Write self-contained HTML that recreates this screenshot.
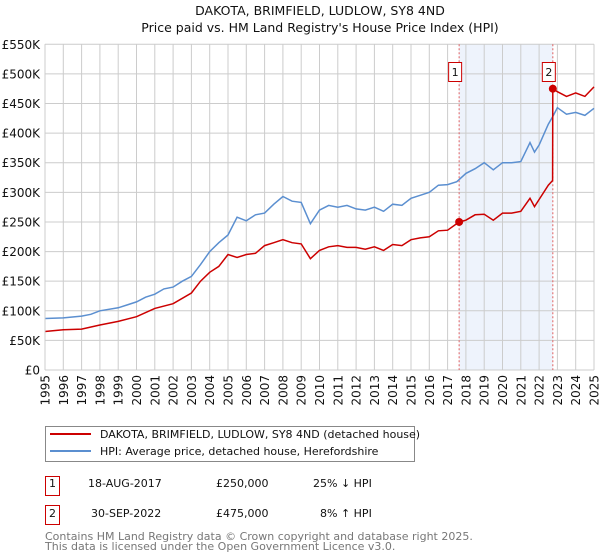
<!DOCTYPE html>
<html><head><meta charset="utf-8"><style>
body{margin:0;background:#fff;font-family:"DejaVu Sans","Liberation Sans",sans-serif;}
svg{display:block}
</style></head><body>
<svg width="600" height="560" xmlns="http://www.w3.org/2000/svg" font-family="DejaVu Sans, Liberation Sans, sans-serif">
<text x="320" y="15" font-size="12.5" text-anchor="middle" fill="#111">DAKOTA, BRIMFIELD, LUDLOW, SY8 4ND</text>
<text x="320" y="32" font-size="12.5" text-anchor="middle" fill="#111">Price paid vs. HM Land Registry's House Price Index (HPI)</text>
<g id="plot"></g>
<g>
<rect x="45.5" y="426.5" width="369" height="35" fill="#fff" stroke="#888"/>
<line x1="50" y1="434" x2="91" y2="434" stroke="#cc0000" stroke-width="2"/>
<text x="100" y="438" font-size="11" fill="#111">DAKOTA, BRIMFIELD, LUDLOW, SY8 4ND (detached house)</text>
<line x1="50" y1="451" x2="91" y2="451" stroke="#5b8fd0" stroke-width="2"/>
<text x="100" y="455" font-size="11" fill="#111">HPI: Average price, detached house, Herefordshire</text>
</g>
<g font-size="11" fill="#111">
<rect x="45.5" y="476.5" width="14" height="19" fill="#fff" stroke="#cc0000"/>
<text x="52.5" y="487" text-anchor="middle">1</text>
<text x="88" y="487">18-AUG-2017</text>
<text x="216" y="487">£250,000</text>
<text x="313" y="487">25% ↓ HPI</text>
<rect x="45.5" y="505.5" width="14" height="19" fill="#fff" stroke="#cc0000"/>
<text x="52.5" y="517" text-anchor="middle">2</text>
<text x="91" y="517">30-SEP-2022</text>
<text x="216" y="517">£475,000</text>
<text x="320" y="517">8% ↑ HPI</text>
</g>
<g font-size="11" fill="#777">
<text x="45" y="540">Contains HM Land Registry data © Crown copyright and database right 2025.</text>
<text x="45" y="550">This data is licensed under the Open Government Licence v3.0.</text>
</g>
</svg>
<script>
const hpiYears=[1995,1996,1997,1997.5,1998,1999,1999.5,2000,2000.5,2001,2001.5,2002,2002.5,2003,2003.5,2004,2004.5,2005,2005.5,2006,2006.5,2007,2007.5,2008,2008.5,2009,2009.5,2010,2010.5,2011,2011.5,2012,2012.5,2013,2013.5,2014,2014.5,2015,2015.5,2016,2016.5,2017,2017.5,2018,2018.5,2019,2019.5,2020,2020.5,2021,2021.5,2021.75,2022,2022.5,2022.75,2023,2023.5,2024,2024.5,2025];
const hpiValues=[87,88,91,94,100,105,110,115,123,128,137,140,150,158,178,200,215,228,258,252,262,265,280,293,285,283,247,270,278,275,278,272,270,275,268,280,278,290,295,300,312,313,318,332,340,350,338,350,350,352,384,368,380,415,428,443,432,435,430,442];
const paidYears=[1995,1996,1997,1998,1999,2000,2001,2002,2003,2003.5,2004,2004.5,2005,2005.5,2006,2006.5,2007,2007.5,2008,2008.5,2009,2009.5,2010,2010.5,2011,2011.5,2012,2012.5,2013,2013.5,2014,2014.5,2015,2015.5,2016,2016.5,2017,2017.63,2018,2018.5,2019,2019.5,2020,2020.5,2021,2021.5,2021.75,2022,2022.5,2022.74,2022.75,2023,2023.5,2024,2024.5,2025];
const paidValues=[65,68,69,76,82,90,104,112,130,150,165,175,195,190,195,197,210,215,220,215,213,188,202,208,210,207,207,204,208,202,212,210,220,223,225,235,236,250,253,262,263,253,265,265,268,290,276,288,312,320,475,470,462,468,462,478];
const yTicks=[0,50,100,150,200,250,300,350,400,450,500,550];
const yTickLabels=["£0","£50K","£100K","£150K","£200K","£250K","£300K","£350K","£400K","£450K","£500K","£550K"];
const xTicks=[1995,1996,1997,1998,1999,2000,2001,2002,2003,2004,2005,2006,2007,2008,2009,2010,2011,2012,2013,2014,2015,2016,2017,2018,2019,2020,2021,2022,2023,2024,2025];
const saleYears=[2017.63,2022.75];
const saleValues=[250,475];
const saleLabels=["1","2"];

const X0=45,X1=594,Y0=370,Y1=44.3;
const x=v=>X0+(v-1995)/30*(X1-X0);
const y=v=>Y0-v/550*(Y0-Y1);
const NS="http://www.w3.org/2000/svg";
const g=document.getElementById('plot');
function mk(t,a){const e=document.createElementNS(NS,t);for(const k in a)e.setAttribute(k,a[k]);g.appendChild(e);return e;}
let e=mk('rect',{x:x(saleYears[0]),y:Y1,width:x(saleYears[1])-x(saleYears[0]),height:Y0-Y1,fill:'#eef3fc'});


yTicks.forEach((t,i)=>{
 let l=mk('line',{x1:X0,x2:X1,y1:y(t),y2:y(t),stroke:'#ccc','stroke-width':1});
 
 
 let tx=mk('text',{x:X0-5,y:y(t)+4.5,'font-size':12,'text-anchor':'end',fill:'#111'});
 tx.textContent=yTickLabels[i];
 
 
});
xTicks.forEach(t=>{
 let l=mk('line',{x1:x(t),x2:x(t),y1:Y1,y2:Y0,stroke:'#ccc','stroke-width':1});
 
 
 let tx=mk('text',{x:0,y:0,'font-size':12,'text-anchor':'end',fill:'#111',transform:`translate(${x(t)+4.5},375) rotate(-90)`});
 tx.textContent=t;
 
 
});
saleYears.forEach(s=>{
 let l=mk('line',{x1:x(s),x2:x(s),y1:Y1,y2:Y0,stroke:'#e06060','stroke-width':1,'stroke-dasharray':'2,2'});
 
 
});
function path(xs,vs,c,name){
 let d=xs.map((v,i)=>(i?'L':'M')+x(v).toFixed(1)+','+y(vs[i]).toFixed(1)).join('');
 let p=mk('path',{d:d,fill:'none',stroke:c,'stroke-width':1.5});
 
 
}
path(hpiYears,hpiValues,'#5b8fd0','hpi-line');
path(paidYears,paidValues,'#cc0000','price-paid-line');
saleYears.forEach((s,i)=>{
 let c=mk('circle',{cx:x(s),cy:y(saleValues[i]),r:4,fill:'#cc0000'});
 
 
 let r=mk('rect',{x:x(s)-10.5,y:62.5,width:13,height:19,fill:'#fff',stroke:'#cc0000'});
 
 
 let t=mk('text',{x:x(s)-4,y:76,'font-size':11,'text-anchor':'middle',fill:'#111'});
 t.textContent=saleLabels[i];
 
 
});
let ax=mk('line',{x1:X0,x2:X0,y1:Y1,y2:Y0,stroke:'#ccc'});


</script>
</body></html>
